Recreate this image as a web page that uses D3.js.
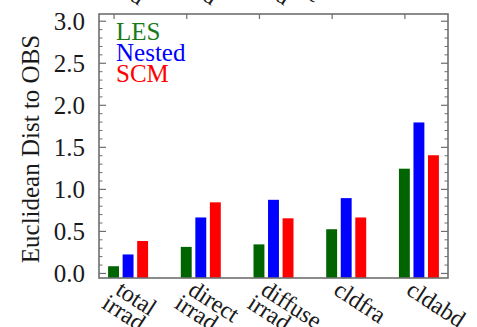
<!DOCTYPE html>
<html>
<head>
<meta charset="utf-8">
<script src="https://cdn.jsdelivr.net/npm/d3@7"></script>
<style>
  html, body { margin: 0; padding: 0; background: #fff; }
  svg { display: block; }
  text { font-family: "Liberation Serif", "DejaVu Serif", serif; }
</style>
</head>
<body>
<svg id="chart" width="477" height="327"></svg>
<script>
// Variables compared against observations
const categories = [["total", "irrad"], ["direct", "irrad"], ["diffuse", "irrad"], ["cldfra"], ["cldabd"]];
const seriesNames = ["LES", "Nested", "SCM"];
const seriesColors = ["#006400", "#0000ff", "#ff0000"];
const les    = [0.08, 0.31, 0.34, 0.52, 1.24];
const nested = [0.22, 0.66, 0.87, 0.89, 1.79];
const scm    = [0.38, 0.84, 0.65, 0.66, 1.40];
const yTicks = [0.0, 0.5, 1.0, 1.5, 2.0, 2.5, 3.0];
const yTitle = "Euclidean Dist to OBS";

const series = [les, nested, scm];

const W = 477, H = 327;
const m = { left: 99, right: 448, top: 14, bottom: 278 };

const svg = d3.select("#chart");

// Category positions are integers; the three bars sit at i, i+0.2, i+0.4
const x = d3.scaleLinear().domain([-0.2, 4.6]).range([m.left, m.right]);
const y = d3.scaleLinear().domain([-0.06, 3.08]).range([m.bottom, m.top]);

const frameColor = "#6e6e6e";
const barW = x(0.15) - x(0);

// Bars
series.forEach((vals, s) => {
  svg.append("g").selectAll("rect")
    .data(vals)
    .join("rect")
    .attr("x", (d, i) => x(i + 0.2 * s) - barW / 2)
    .attr("y", d => y(d))
    .attr("width", barW)
    .attr("height", d => m.bottom - y(d))
    .attr("fill", seriesColors[s]);
});

// Left and right axes with major (0.5) and minor (0.1) ticks pointing inward
const minor = d3.range(0, 31).map(k => k / 10).filter(v => Math.abs(v * 2 - Math.round(v * 2)) > 1e-6);

const leftAxis = d3.axisLeft(y).tickValues(yTicks).tickFormat(d3.format(".1f")).tickSize(-7).tickPadding(14);
const gl = svg.append("g").attr("transform", `translate(${m.left},0)`).call(leftAxis);
gl.select(".domain").remove();
gl.selectAll("line").attr("stroke", frameColor).attr("stroke-width", 1.2);
gl.selectAll("text").attr("font-size", 25).attr("fill", "#1a1a1a").attr("dy", "0.34em");

const leftMinor = d3.axisLeft(y).tickValues(minor).tickFormat("").tickSize(-3.5);
const glm = svg.append("g").attr("transform", `translate(${m.left},0)`).call(leftMinor);
glm.select(".domain").remove();
glm.selectAll("line").attr("stroke", frameColor).attr("stroke-width", 1);

const rightAxis = d3.axisRight(y).tickValues(yTicks).tickFormat("").tickSize(-7);
const gr = svg.append("g").attr("transform", `translate(${m.right},0)`).call(rightAxis);
gr.select(".domain").remove();
gr.selectAll("line").attr("stroke", frameColor).attr("stroke-width", 1.2);

const rightMinor = d3.axisRight(y).tickValues(minor).tickFormat("").tickSize(-3.5);
const grm = svg.append("g").attr("transform", `translate(${m.right},0)`).call(rightMinor);
grm.select(".domain").remove();
grm.selectAll("line").attr("stroke", frameColor).attr("stroke-width", 1);

// Top axis ticks at the category positions
const topAxis = d3.axisTop(x).tickValues(d3.range(categories.length)).tickFormat("").tickSize(-5);
const gt = svg.append("g").attr("transform", `translate(0,${m.top})`).call(topAxis);
gt.select(".domain").remove();
gt.selectAll("line").attr("stroke", frameColor).attr("stroke-width", 1.2);

// Frame
svg.append("rect")
  .attr("x", m.left).attr("y", m.top)
  .attr("width", m.right - m.left).attr("height", m.bottom - m.top)
  .attr("fill", "none").attr("stroke", frameColor).attr("stroke-width", 1.6);

// Rotated category labels
function drawLabels(offsetY, cats) {
  const g = svg.append("g");
  cats.forEach((lines, i) => {
    const t = g.append("text")
      .attr("transform", `translate(${x(i) + 10},${m.bottom + 1 + offsetY}) rotate(33)`)
      .attr("font-size", 24)
      .attr("fill", "#1a1a1a");
    lines.forEach((ln, k) => {
      t.append("tspan")
        .attr("x", k === 0 ? 0 : -4)
        .attr("y", 0)
        .attr("dy", (0.72 + k * 0.78) + "em")
        .text(ln);
    });
  });
}
drawLabels(0, categories);
// two-line labels of the panel above, cut by the top edge
drawLabels(-326, categories.slice(0, 3));

// Y title
svg.append("text")
  .attr("transform", `translate(30,${(28 + 270) / 2}) rotate(-90)`)
  .attr("text-anchor", "middle")
  .attr("dominant-baseline", "central")
  .attr("font-size", 25)
  .attr("fill", "#1a1a1a")
  .text(yTitle);

// Legend
seriesNames.forEach((name, s) => {
  svg.append("text")
    .attr("x", 116)
    .attr("y", 40 + s * 21)
    .attr("font-size", 25)
    .attr("fill", seriesColors[s] === "#006400" ? "#1a7a1a" : seriesColors[s])
    .text(name);
});
</script>
</body>
</html>
